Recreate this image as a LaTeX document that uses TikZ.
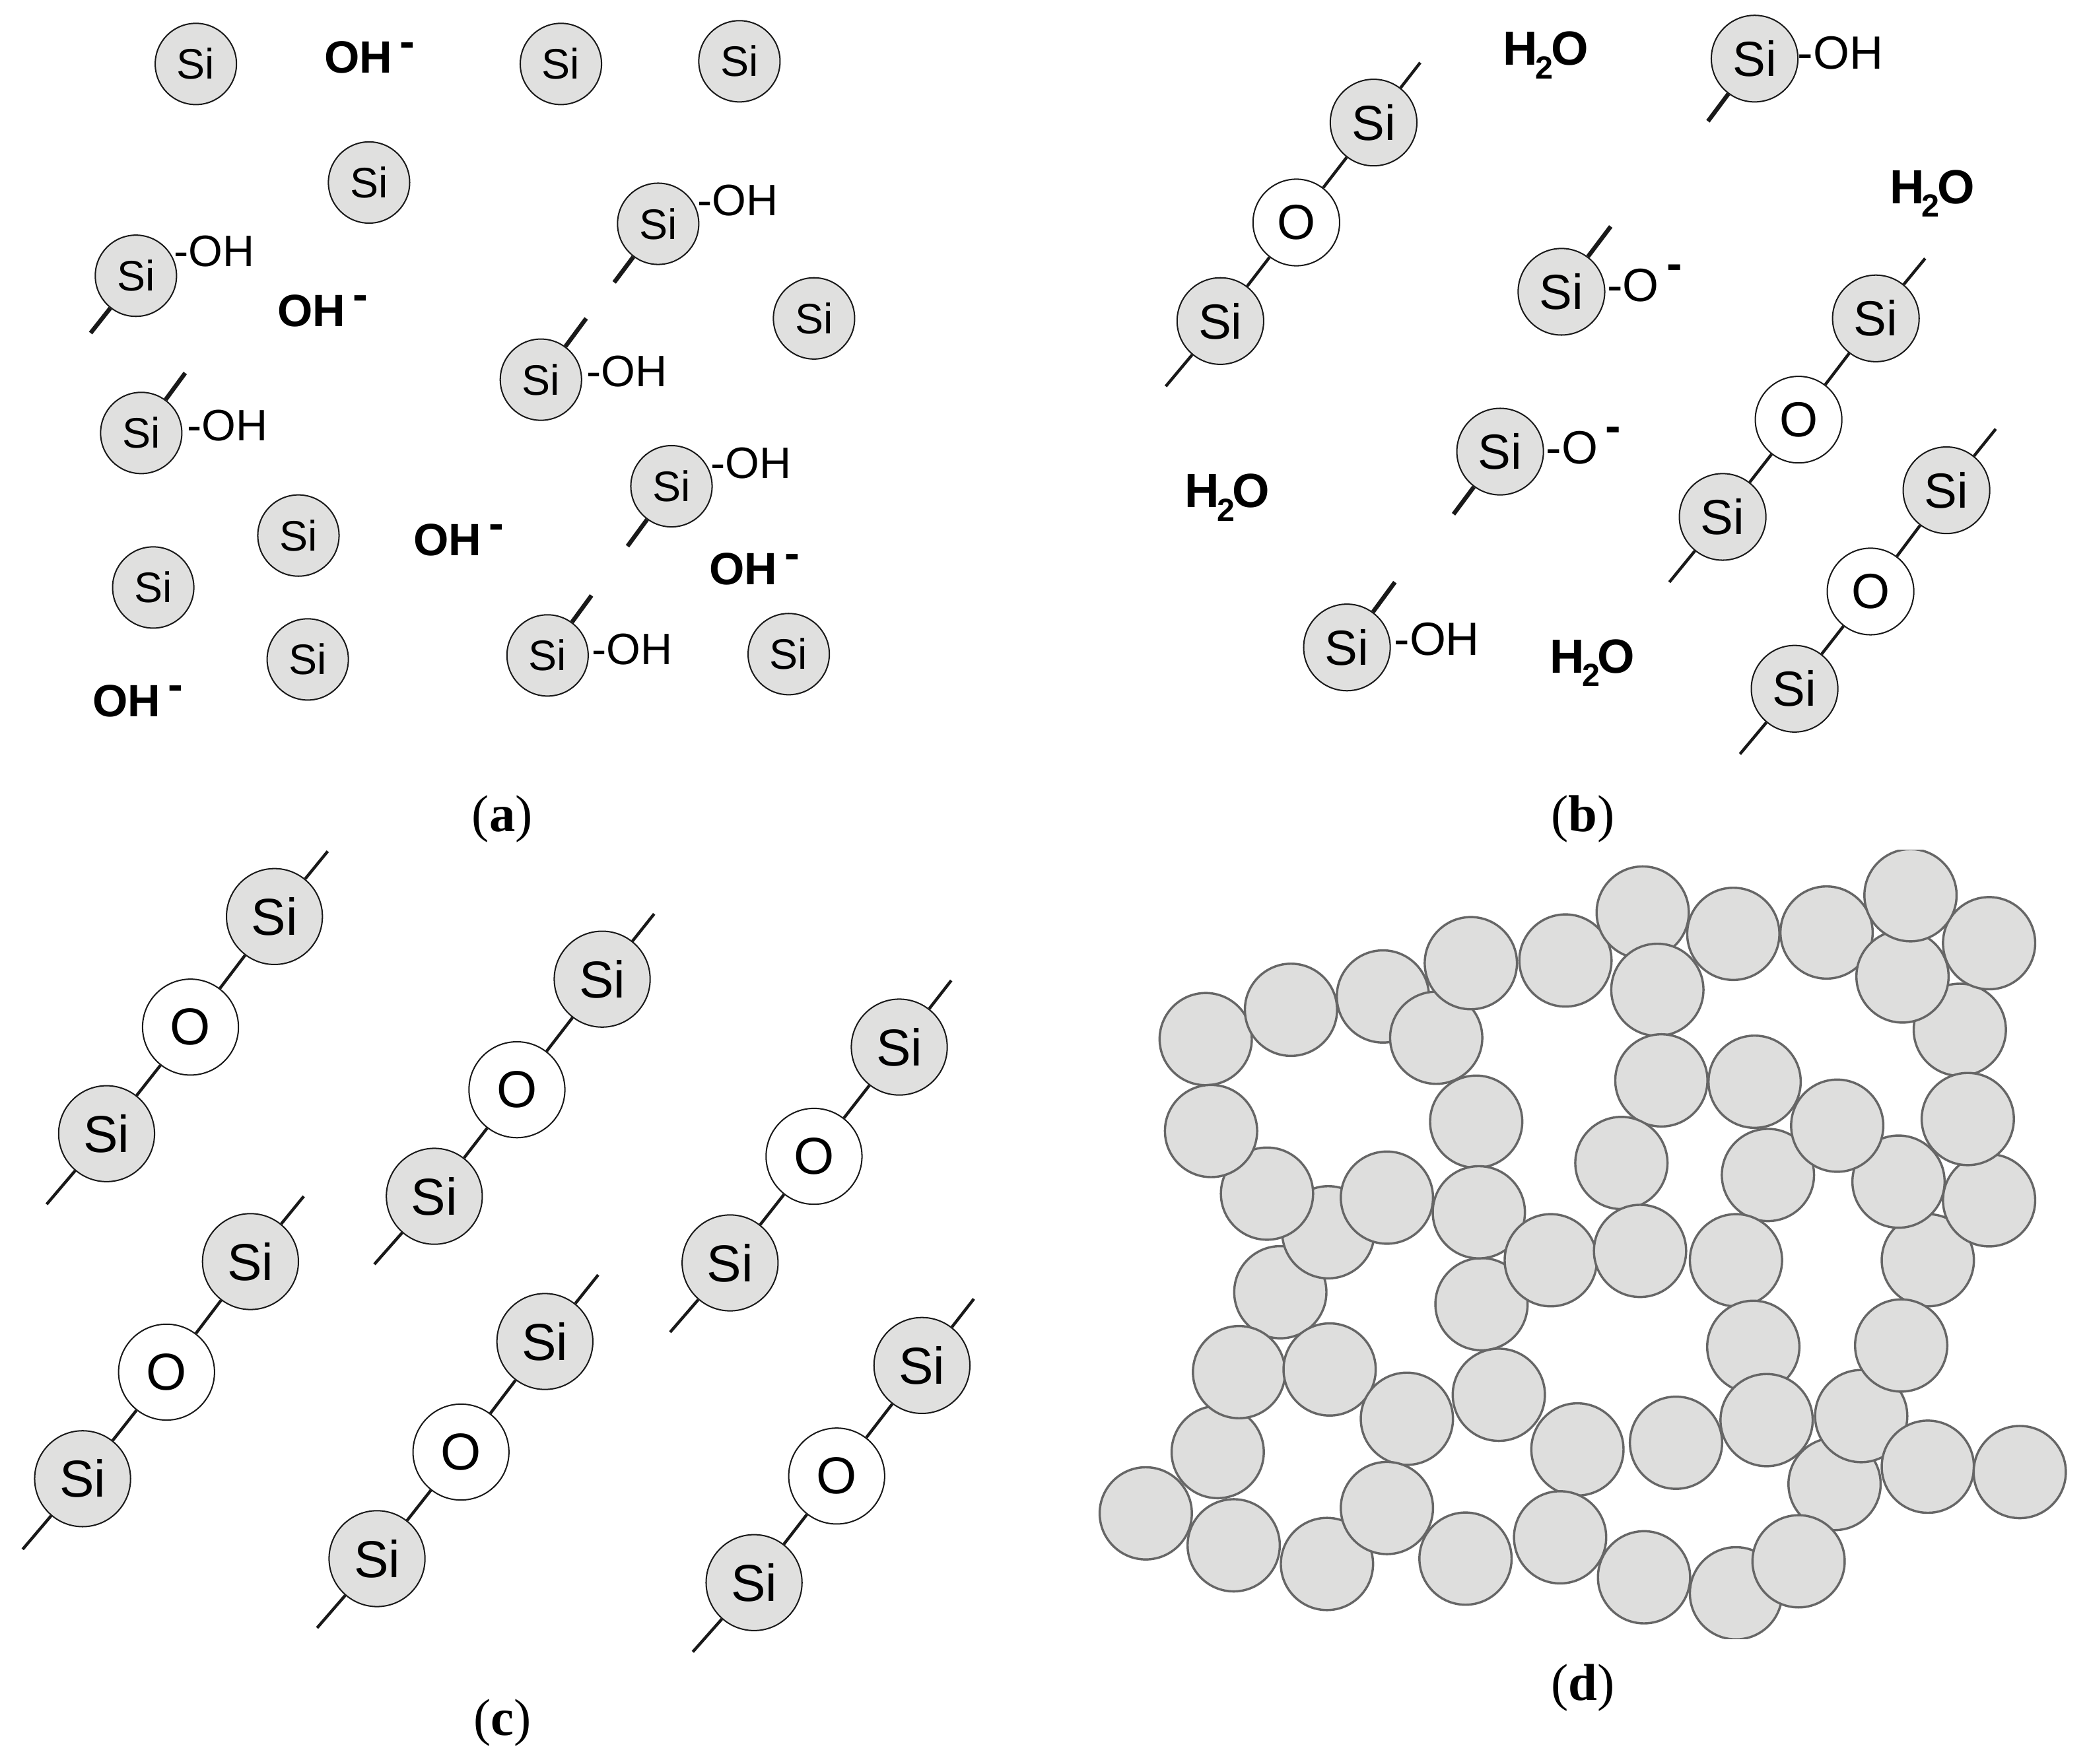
\documentclass[tikz,border=0pt]{standalone}
\usepackage{fontspec}
\setmainfont{Liberation Serif}
\newfontfamily\labelfont{Liberation Sans}
\usepackage{tikz}
\definecolor{grainGray}{HTML}{DEDEDD}
\definecolor{siGray}{HTML}{E0E0DF}
\definecolor{rimGray}{HTML}{666666}
\newcommand{\ionbar}[1]{\raisebox{#1}{\textbf{-}}}
\newcommand{\water}{H\kern-.05em\raisebox{-5pt}{\fontsize{12}{12}\selectfont 2}\kern-.05em O}
\tikzset{
    siatom/.style={circle,draw=black!90,line width=0.5pt,fill=siGray,inner sep=0pt,text=black,font=\labelfont\fontsize{#1}{#1}\selectfont},
    siA/.style={siatom=16,minimum size=30.5pt},
    siB/.style={siatom=18.5,minimum size=32.5pt},
    siC/.style={siatom=19.5,minimum size=36pt},
    oB/.style={siB,fill=white},
    oC/.style={siC,fill=white},
    bond/.style={black!90,line width=1.1pt},
    stub/.style={black!90,line width=1.6pt},
    group/.style={anchor=base west,inner sep=0pt,font=\labelfont\fontsize{16.5}{16.5}\selectfont},
    groupB/.style={group,font=\labelfont\fontsize{17.5}{17.5}\selectfont},
    ion/.style={anchor=base west,inner sep=0pt,font=\labelfont\bfseries\fontsize{17}{17}\selectfont},
    molecule/.style={anchor=base west,inner sep=0pt,font=\labelfont\bfseries\fontsize{18}{18}\selectfont},
    panel/.style={inner sep=0pt,font=\fontsize{19.5}{19.5}\selectfont},
    grain/.style={circle,draw=rimGray,line width=0.85pt,fill=grainGray,minimum size=34.6pt,inner sep=0pt}
}
\begin{document}
\begin{tikzpicture}[x=0.5pt,y=-0.5pt]
    \useasboundingbox (0,0) rectangle (1568,1324);

    % panel a
    \node[siA] (a1)  at (147, 48) {Si};
    \node[siA] (a2)  at (421, 48) {Si};
    \node[siA] (a3)  at (555, 46) {Si};
    \node[siA] (a4)  at (277,137) {Si};
    \node[siA] (a5)  at (494,168) {Si};
    \node[siA] (a6)  at (102,207) {Si};
    \node[siA] (a7)  at (611,239) {Si};
    \node[siA] (a8)  at (406,285) {Si};
    \node[siA] (a9)  at (106,325) {Si};
    \node[siA] (a10) at (504,365) {Si};
    \node[siA] (a11) at (224,402) {Si};
    \node[siA] (a12) at (115,441) {Si};
    \node[siA] (a13) at (231,495) {Si};
    \node[siA] (a14) at (411,492) {Si};
    \node[siA] (a15) at (592,491) {Si};

    \coordinate (a5end)  at (461,212);
    \coordinate (a6end)  at ( 68,250);
    \coordinate (a8end)  at (440,239);
    \coordinate (a9end)  at (139,280);
    \coordinate (a10end) at (471,410);
    \coordinate (a14end) at (444,447);
    \draw[stub] (a5)  -- (a5end);
    \draw[stub] (a6)  -- (a6end);
    \draw[stub] (a8)  -- (a8end);
    \draw[stub] (a9)  -- (a9end);
    \draw[stub] (a10) -- (a10end);
    \draw[stub] (a14) -- (a14end);

    \node[group] (a5oh)  at (523,162) {-OH};
    \node[group] (a6oh)  at (130,200) {-OH};
    \node[group] (a8oh)  at (440,290) {-OH};
    \node[group] (a9oh)  at (140,331) {-OH};
    \node[group] (a10oh) at (533,359) {-OH};
    \node[group] (a14oh) at (444,499) {-OH};

    \node[ion] (aion1) at (243, 55) {OH\,\ionbar{.36em}};
    \node[ion] (aion2) at (208,245) {OH\,\ionbar{.36em}};
    \node[ion] (aion3) at (310,417) {OH\,\ionbar{.36em}};
    \node[ion] (aion4) at (532,439) {OH\,\ionbar{.36em}};
    \node[ion] (aion5) at ( 69,538) {OH\,\ionbar{.36em}};

    \node[panel] (alabel) at (377,615) {(\textbf{a})};

    % panel b
    \node[siB] (b1) at (1031, 92) {Si};
    \node[oB]  (b2) at ( 973,167) {O};
    \node[siB] (b3) at ( 916,241) {Si};
    \coordinate (b1end) at (1066, 47);
    \coordinate (b3end) at ( 875,290);
    \draw[bond] (b1end) -- (b1);
    \draw[bond] (b1) -- (b2);
    \draw[bond] (b2) -- (b3);
    \draw[bond] (b3) -- (b3end);

    \node[siB] (b4) at (1408,239) {Si};
    \node[oB]  (b5) at (1350,315) {O};
    \node[siB] (b6) at (1293,388) {Si};
    \coordinate (b4end) at (1445,194);
    \coordinate (b6end) at (1253,437);
    \draw[bond] (b4end) -- (b4);
    \draw[bond] (b4) -- (b5);
    \draw[bond] (b5) -- (b6);
    \draw[bond] (b6) -- (b6end);

    \node[siB] (b7) at (1461,368) {Si};
    \node[oB]  (b8) at (1404,444) {O};
    \node[siB] (b9) at (1347,517) {Si};
    \coordinate (b7end) at (1498,322);
    \coordinate (b9end) at (1306,566);
    \draw[bond] (b7end) -- (b7);
    \draw[bond] (b7) -- (b8);
    \draw[bond] (b8) -- (b9);
    \draw[bond] (b9) -- (b9end);

    \node[siB] (b10) at (1317, 44) {Si};
    \node[siB] (b11) at (1172,219) {Si};
    \node[siB] (b12) at (1126,339) {Si};
    \node[siB] (b13) at (1011,486) {Si};
    \coordinate (b10end) at (1282, 91);
    \coordinate (b11end) at (1209,170);
    \coordinate (b12end) at (1091,386);
    \coordinate (b13end) at (1047,437);
    \draw[stub] (b10) -- (b10end);
    \draw[stub] (b11) -- (b11end);
    \draw[stub] (b12) -- (b12end);
    \draw[stub] (b13) -- (b13end);

    \node[groupB] (b10oh) at (1349, 52) {-OH};
    \node[groupB] (b11o)  at (1206,226) {-O\,\ionbar{.46em}};
    \node[groupB] (b12o)  at (1160,348) {-O\,\ionbar{.46em}};
    \node[groupB] (b13oh) at (1046,492) {-OH};

    \node[molecule] (bwater1) at (1128, 49) {\water};
    \node[molecule] (bwater2) at (1418,153) {\water};
    \node[molecule] (bwater3) at ( 889,381) {\water};
    \node[molecule] (bwater4) at (1163,505) {\water};

    \node[panel] (blabel) at (1188,615) {(\textbf{b})};

    % panel c
    \node[siC] (c1) at (206, 688) {Si};
    \node[oC]  (c2) at (143, 771) {O};
    \node[siC] (c3) at ( 80, 851) {Si};
    \coordinate (c1end) at (246, 639);
    \coordinate (c3end) at ( 35, 904);
    \draw[bond] (c1end) -- (c1);
    \draw[bond] (c1) -- (c2);
    \draw[bond] (c2) -- (c3);
    \draw[bond] (c3) -- (c3end);

    \node[siC] (c4) at (452, 735) {Si};
    \node[oC]  (c5) at (388, 818) {O};
    \node[siC] (c6) at (326, 898) {Si};
    \coordinate (c4end) at (491, 686);
    \coordinate (c6end) at (281, 949);
    \draw[bond] (c4end) -- (c4);
    \draw[bond] (c4) -- (c5);
    \draw[bond] (c5) -- (c6);
    \draw[bond] (c6) -- (c6end);

    \node[siC] (c7) at (675, 786) {Si};
    \node[oC]  (c8) at (611, 868) {O};
    \node[siC] (c9) at (548, 948) {Si};
    \coordinate (c7end) at (714, 736);
    \coordinate (c9end) at (503,1000);
    \draw[bond] (c7end) -- (c7);
    \draw[bond] (c7) -- (c8);
    \draw[bond] (c8) -- (c9);
    \draw[bond] (c9) -- (c9end);

    \node[siC] (c10) at (188, 947) {Si};
    \node[oC]  (c11) at (125,1030) {O};
    \node[siC] (c12) at ( 62,1110) {Si};
    \coordinate (c10end) at (228, 898);
    \coordinate (c12end) at ( 17,1163);
    \draw[bond] (c10end) -- (c10);
    \draw[bond] (c10) -- (c11);
    \draw[bond] (c11) -- (c12);
    \draw[bond] (c12) -- (c12end);

    \node[siC] (c13) at (409,1007) {Si};
    \node[oC]  (c14) at (346,1090) {O};
    \node[siC] (c15) at (283,1170) {Si};
    \coordinate (c13end) at (449, 957);
    \coordinate (c15end) at (238,1222);
    \draw[bond] (c13end) -- (c13);
    \draw[bond] (c13) -- (c14);
    \draw[bond] (c14) -- (c15);
    \draw[bond] (c15) -- (c15end);

    \node[siC] (c16) at (692,1025) {Si};
    \node[oC]  (c17) at (628,1108) {O};
    \node[siC] (c18) at (566,1188) {Si};
    \coordinate (c16end) at (731, 975);
    \coordinate (c18end) at (520,1240);
    \draw[bond] (c16end) -- (c16);
    \draw[bond] (c16) -- (c17);
    \draw[bond] (c17) -- (c18);
    \draw[bond] (c18) -- (c18end);

    \node[panel] (clabel) at (377,1293) {(\textbf{c})};

    % panel d, later grains lie over earlier ones
    \begin{scope}
    \clip (820,638) rectangle (1553,1230);
    \node[grain] (d1)  at (1038, 748) {};
    \node[grain] (d2)  at ( 905, 780) {};
    \node[grain] (d3)  at ( 969, 758) {};
    \node[grain] (d4)  at (1078, 779) {};
    \node[grain] (d5)  at (1175, 721) {};
    \node[grain] (d6)  at (1104, 723) {};
    \node[grain] (d7)  at (1233, 685) {};
    \node[grain] (d8)  at (1301, 701) {};
    \node[grain] (d9)  at (1244, 743) {};
    \node[grain] (d10) at (1471, 773) {};
    \node[grain] (d11) at (1493, 708) {};
    \node[grain] (d12) at (1371, 700) {};
    \node[grain] (d13) at (1428, 733) {};
    \node[grain] (d14) at (1434, 672) {};
    \node[grain] (d15) at (1108, 842) {};
    \node[grain] (d16) at (1247, 811) {};
    \node[grain] (d17) at (1317, 812) {};
    \node[grain] (d18) at (1217, 873) {};
    \node[grain] (d19) at (1447, 946) {};
    \node[grain] (d20) at (1425, 887) {};
    \node[grain] (d21) at (1493, 901) {};
    \node[grain] (d22) at (1477, 840) {};
    \node[grain] (d23) at (1327, 882) {};
    \node[grain] (d24) at (1379, 845) {};
    \node[grain] (d25) at ( 961, 970) {};
    \node[grain] (d26) at ( 997, 925) {};
    \node[grain] (d27) at ( 951, 896) {};
    \node[grain] (d28) at ( 909, 849) {};
    \node[grain] (d29) at (1041, 899) {};
    \node[grain] (d30) at (1112, 979) {};
    \node[grain] (d31) at (1110, 910) {};
    \node[grain] (d32) at (1303, 946) {};
    \node[grain] (d33) at (1164, 946) {};
    \node[grain] (d34) at (1231, 939) {};
    \node[grain] (d35) at (1316,1011) {};
    \node[grain] (d36) at (1377,1114) {};
    \node[grain] (d37) at (1397,1063) {};
    \node[grain] (d38) at (1427,1010) {};
    \node[grain] (d39) at ( 914,1090) {};
    \node[grain] (d40) at ( 930,1030) {};
    \node[grain] (d41) at ( 998,1028) {};
    \node[grain] (d42) at (1056,1065) {};
    \node[grain] (d43) at (1125,1047) {};
    \node[grain] (d44) at (1184,1088) {};
    \node[grain] (d45) at (1258,1083) {};
    \node[grain] (d46) at (1326,1066) {};
    \node[grain] (d47) at (1447,1101) {};
    \node[grain] (d48) at (1516,1105) {};
    \node[grain] (d49) at ( 860,1136) {};
    \node[grain] (d50) at ( 926,1160) {};
    \node[grain] (d51) at ( 996,1174) {};
    \node[grain] (d52) at (1100,1170) {};
    \node[grain] (d53) at (1041,1132) {};
    \node[grain] (d54) at (1171,1154) {};
    \node[grain] (d55) at (1234,1184) {};
    \node[grain] (d56) at (1303,1196) {};
    \node[grain] (d57) at (1350,1172) {};
    \end{scope}

    \node[panel] (dlabel) at (1188,1267) {(\textbf{d})};
\end{tikzpicture}
\end{document}
